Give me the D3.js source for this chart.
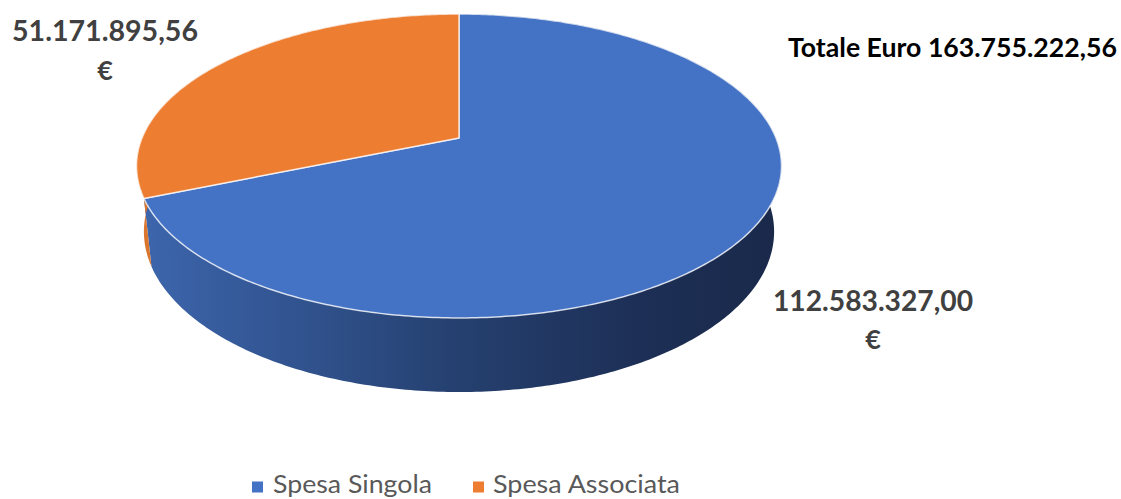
<!DOCTYPE html>
<html>
<head>
<meta charset="utf-8">
<script src="https://cdn.jsdelivr.net/npm/d3@7/dist/d3.min.js"></script>
<style>
  body { margin: 0; background: #ffffff; }
  svg text { font-family: Lato, "Open Sans", "DejaVu Sans", sans-serif; }
</style>
</head>
<body>
<svg id="chart" width="1121" height="499"></svg>
<script>
// ---------- data ----------
const categories = ["Spesa Singola", "Spesa Associata"];
const values = [112583327.00, 51171895.56];
const sliceColors = ["#4472C4", "#ED7D31"];
const totalPrefix = "Totale Euro ";

// ---------- formatting (Italian) ----------
const it = d3.formatLocale({ decimal: ",", thousands: ".", grouping: [3], currency: ["", " €"] });
const fmt = it.format(",.2f");
const total = d3.sum(values);

const svg = d3.select("#chart");
const defs = svg.append("defs");

// ---------- 3D perspective projection of the pie ----------
const cx = 459, cy = 138;
const tilt = Math.asin(0.4631);
const camDist = 4.811;
const focal = 1525;
const depth = 0.2356;

function project(a, level) {
  const u = Math.sin(a), v = -Math.cos(a);
  const Y = -depth * level;
  const xc = u;
  const yc = Y * Math.cos(tilt) - v * Math.sin(tilt);
  const zc = Y * Math.sin(tilt) + v * Math.cos(tilt);
  const w = camDist - zc;
  return [cx + focal * xc / w, cy - focal * yc / w];
}
function projectCenter(level) {
  const Y = -depth * level;
  const yc = Y * Math.cos(tilt);
  const zc = Y * Math.sin(tilt);
  const w = camDist - zc;
  return [cx, cy - focal * yc / w];
}
function arcPoints(a0, a1, level) {
  const n = Math.max(2, Math.ceil(Math.abs(a1 - a0) * 80));
  const pts = [];
  for (let i = 0; i <= n; i++) pts.push(project(a0 + (a1 - a0) * i / n, level));
  return pts;
}

const pie = d3.pie().sort(null).startAngle(0).endAngle(2 * Math.PI);
const arcs = pie(values);

// side gradients
const sideStops = [
  [[0, "#3d66ad"], [0.25, "#31538f"], [0.5, "#25406f"], [0.78, "#1d2f56"], [1, "#1a294a"]],
  [[0, "#dc762e"], [0.25, "#bd6126"], [0.5, "#9a4e1e"], [0.78, "#7a3e18"], [1, "#6a3514"]]
];
sideStops.forEach((stops, i) => {
  const g = defs.append("linearGradient")
    .attr("id", "side" + i)
    .attr("gradientUnits", "userSpaceOnUse")
    .attr("x1", project(-Math.PI / 2, 0)[0] - 4).attr("x2", project(Math.PI / 2, 0)[0] + 4)
    .attr("y1", 0).attr("y2", 0);
  stops.forEach(st => g.append("stop").attr("offset", st[0]).attr("stop-color", st[1]));
});

const line = d3.line();

// sides
const sideG = svg.append("g");
arcs.forEach((d, i) => {
  const top = arcPoints(d.startAngle, d.endAngle, 0);
  const bot = arcPoints(d.startAngle, d.endAngle, 1).reverse();
  sideG.append("path")
    .attr("d", line(top.concat(bot)) + "Z")
    .attr("fill", "url(#side" + i + ")");
});

// tops
const topG = svg.append("g");
arcs.forEach((d, i) => {
  const pts = [projectCenter(0)].concat(arcPoints(d.startAngle, d.endAngle, 0));
  topG.append("path")
    .attr("d", line(pts) + "Z")
    .attr("fill", sliceColors[i])
    .attr("stroke", "rgba(255,255,255,0.75)")
    .attr("stroke-width", 1.5)
    .attr("stroke-linejoin", "round");
});

// ---------- text helpers ----------
function sizeText(sel, fontSize, targetWidth) {
  sel.attr("font-size", fontSize);
  if (targetWidth) sel.attr("textLength", targetWidth).attr("lengthAdjust", "spacingAndGlyphs");
  return sel;
}
function fitText(sel, fontSize, targetWidth) {
  sel.attr("font-size", fontSize);
  const w = sel.node().getComputedTextLength();
  sel.attr("font-size", (fontSize * targetWidth / w).toFixed(2));
  return sel;
}

// data labels
const labelSpecs = [
  { x: 873, y: 310.5, yEuro: 349, width: 200 },
  { x: 105, y: 41, yEuro: 80, width: 186 }
];
arcs.forEach((d, i) => {
  const s = labelSpecs[i];
  const t = svg.append("text")
    .attr("x", s.x).attr("y", s.y)
    .attr("text-anchor", "middle")
    .attr("font-weight", 700)
    .attr("fill", "#404040")
    .text(fmt(d.data));
  sizeText(t, 28, s.width);
  svg.append("text")
    .attr("x", s.x).attr("y", s.yEuro)
    .attr("text-anchor", "middle")
    .attr("font-weight", 700).attr("font-size", 27)
    .attr("fill", "#404040")
    .text("€");
});

// total
const tt = svg.append("text")
  .attr("x", 788).attr("y", 57)
  .attr("font-weight", 700)
  .attr("fill", "#000000")
  .text(totalPrefix + fmt(total));
fitText(tt, 20, 329);

// legend
const legendSpecs = [
  { sx: 252, tx: 273, width: 159 },
  { sx: 473, tx: 493, width: 187 }
];
categories.forEach((c, i) => {
  const s = legendSpecs[i];
  svg.append("rect")
    .attr("x", s.sx).attr("y", 481.5)
    .attr("width", 11).attr("height", 11)
    .attr("fill", sliceColors[i]);
  const lt = svg.append("text")
    .attr("x", s.tx).attr("y", 493)
    .attr("fill", "#595959")
    .text(c);
  sizeText(lt, 24.5, s.width);
});
</script>
</body>
</html>
